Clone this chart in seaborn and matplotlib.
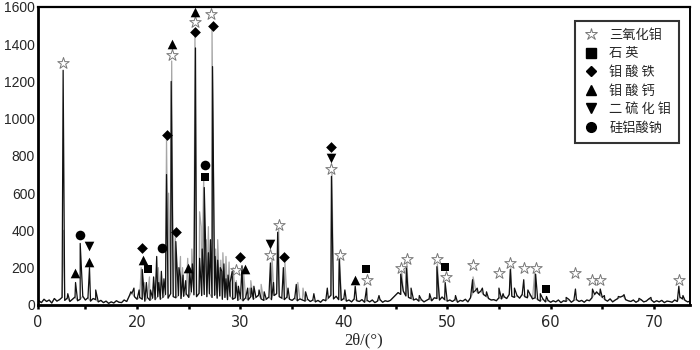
import numpy as np
import pandas as pd
import seaborn as sns
import matplotlib.pyplot as plt
from matplotlib.lines import Line2D

# scan baseline (counts), read every 0.25 deg from 10.5 to 73.5
baseline_start = 10.5
baseline_step = 0.25
baseline_counts = [
    22, 12, 30, 18, 26, 10, 34, 20,
    28, 40, 24, 36, 18, 30, 42, 22,
    30, 46, 26, 38, 20, 34, 28, 16,
    24, 12, 20, 8, 16, 10, 22, 14,
    12, 26, 18, 48, 62, 44, 30, 40,
    30, 20, 40, 24, 36, 28, 44, 30,
    40, 56, 36, 60, 44, 38, 50, 34,
    46, 60, 40, 70, 54, 44, 62, 50,
    56, 44, 60, 40, 52, 36, 48, 30,
    40, 28, 46, 30, 38, 24, 34, 22,
    38, 26, 44, 30, 40, 52, 32, 24,
    30, 42, 28, 50, 60, 44, 36, 28,
    42, 30, 24, 36, 22, 32, 26, 20,
    30, 18, 26, 16, 24, 14, 28, 22,
    36, 52, 32, 46, 28, 24, 34, 20,
    26, 16, 32, 22, 18, 28, 14, 24,
    16, 26, 12, 20, 28, 14, 22, 18,
    24, 38, 52, 66, 56, 74, 48, 40,
    34, 26, 32, 20, 28, 16, 24, 32,
    22, 38, 34, 26, 42, 28, 20, 26,
    18, 28, 14, 24, 20, 30, 16, 38,
    66, 78, 62, 74, 56, 46, 34, 26,
    28, 22, 38, 32, 44, 34, 56, 46,
    40, 50, 36, 56, 44, 38, 58, 32,
    38, 28, 20, 32, 16, 24, 14, 22,
    16, 26, 12, 22, 18, 30, 14, 24,
    28, 18, 24, 14, 26, 22, 38, 56,
    66, 52, 40, 28, 20, 32, 16, 26,
    34, 42, 48, 28, 22, 18, 26, 14,
    22, 28, 16, 20, 32, 26, 14, 22,
    16, 24, 12, 20, 18, 14, 26, 18,
    42, 32, 24, 16, 20,
]

# peak tops of the dark trace
black_2theta = [12.85, 13.3, 14.05, 14.5, 15.4, 16.0, 19.4, 19.7, 20.2, 20.5,
                20.9, 21.3, 21.6, 21.9, 22.1, 22.35, 22.6, 22.85, 23.3, 23.75,
                24.05, 24.2, 24.45, 24.7, 25.1, 25.35, 25.65, 26.05, 26.3, 26.5,
                26.9, 27.1, 27.3, 27.55, 27.8, 28.05, 28.2, 28.4, 28.6, 28.8,
                29.0, 29.2, 29.55, 29.8, 30.15, 30.7, 31.05, 31.3, 31.8, 32.3,
                32.9, 33.2, 33.6, 34.15, 34.6, 35.4, 36.3, 37.1, 38.4, 38.8,
                39.55, 40.1, 41.1, 42.2, 43.4, 45.5, 46.05, 46.5, 47.3, 48.3,
                49.0, 49.8, 50.8, 52.45, 52.9, 53.4, 53.8, 55.0, 55.4, 56.1,
                56.5, 57.4, 57.8, 58.55, 59.0, 59.6, 61.5, 62.4, 64.05, 64.45,
                64.8, 65.2, 66.55, 67.1, 68.55, 69.7, 72.4, 72.8]
black_counts = [1260, 60, 120, 330, 200, 80, 70, 90, 80, 190,
                120, 80, 150, 260, 120, 180, 140, 700, 1200, 340,
                200, 150, 160, 130, 180, 220, 1380, 250, 300, 630,
                280, 350, 1280, 260, 240, 200, 180, 220, 140, 160,
                120, 180, 120, 100, 210, 90, 90, 100, 80, 70,
                225, 120, 390, 200, 90, 110, 70, 60, 90, 690,
                245, 80, 100, 90, 50, 165, 200, 90, 50, 60,
                205, 120, 50, 135, 90, 90, 70, 90, 60, 190,
                90, 135, 80, 165, 60, 45, 40, 85, 85, 70,
                85, 50, 45, 55, 35, 40, 100, 50]

# peak tops of the light trace
gray_2theta = [12.9, 20.4, 20.7, 21.2, 21.6, 22.05, 22.85, 23.05, 23.35, 23.7,
               24.2, 24.4, 24.9, 25.3, 25.6, 26.05, 26.2, 26.45, 26.7, 26.9,
               27.25, 27.6, 27.8, 28.1, 28.3, 28.6, 28.9, 29.3, 29.6, 30.3,
               30.9, 31.0, 32.0, 33.05, 33.7, 34.3, 35.55, 36.05, 38.85, 39.6,
               45.6, 46.1, 49.05, 52.5, 56.15, 58.45]
gray_counts = [400, 200, 120, 150, 120, 200, 900, 600, 1310, 380,
               260, 200, 250, 300, 1460, 500, 420, 700, 350, 420,
               1475, 300, 350, 240, 280, 260, 230, 200, 130, 180,
               90, 130, 110, 260, 420, 230, 120, 90, 720, 260,
               180, 230, 220, 150, 200, 170]

# phase markers: (2theta, label height)
moo3_x = [12.8, 23.35, 25.65, 27.2, 29.55, 32.9, 33.7, 38.75, 39.6, 42.2, 45.5, 46.1,
          49.0, 49.85, 52.45, 55.0, 56.1, 57.4, 58.55, 62.4, 64.0, 64.75, 72.4]
moo3_y = [1300, 1340, 1520, 1565, 185, 270, 430, 730, 270, 135, 200, 245,
          245, 150, 215, 170, 225, 200, 200, 170, 135, 135, 135]
quartz_x = [21.05, 26.55, 42.1, 49.75, 59.6]
quartz_y = [190, 685, 190, 205, 85]
fe_x = [20.5, 22.85, 23.8, 25.65, 27.3, 30.0, 34.2, 38.8]
fe_y = [308, 913, 390, 1465, 1500, 255, 255, 848]
ca_x = [14.0, 15.4, 20.55, 23.35, 24.9, 25.65, 30.4, 41.1]
ca_y = [170, 232, 243, 1400, 200, 1573, 195, 135]
mos2_x = [15.4, 32.9, 38.8]
mos2_y = [315, 325, 790]
na_x = [14.45, 22.4, 26.55]
na_y = [373, 308, 751]

legend_labels = ['三氧化钼', '石 英', '钼 酸 铁', '钼 酸 钙', '二 硫 化 钼', '硅铝酸钠']

x_ticks = [10.4, 20, 30, 40, 50, 60, 70]
x_ticklabels = ['0', '20', '30', '40', '50', '60', '70']
y_ticks = [0, 200, 400, 600, 800, 1000, 1200, 1400, 1600]

baseline = pd.DataFrame({
    'two_theta': baseline_start + baseline_step * np.arange(len(baseline_counts)),
    'counts': baseline_counts,
})


def trace(px, py):
    peaks = pd.DataFrame({'two_theta': px, 'counts': py})
    return pd.concat([baseline, peaks]).sort_values('two_theta').reset_index(drop=True)


sns.set_style('white')
plt.rcParams['font.family'] = ['DejaVu Sans']

fig = plt.figure(figsize=(7, 3.5), dpi=100)
ax = fig.add_axes([0.054, 0.129, 0.932, 0.851])

sns.lineplot(data=trace(gray_2theta, gray_counts), x='two_theta', y='counts',
             estimator=None, sort=True, color='#a6a6a6', lw=0.9, ax=ax)
sns.lineplot(data=trace(black_2theta, black_counts), x='two_theta', y='counts',
             estimator=None, sort=True, color='#111111', lw=0.9, ax=ax)

mk = dict(ax=ax, zorder=5, legend=False)
sns.scatterplot(x=moo3_x, y=moo3_y, marker='*', s=75, facecolor='white',
                edgecolor='#777777', linewidth=0.7, **mk)
sns.scatterplot(x=quartz_x, y=quartz_y, marker='s', s=38, color='black', linewidth=0, **mk)
sns.scatterplot(x=fe_x, y=fe_y, marker='D', s=30, color='black', linewidth=0, **mk)
sns.scatterplot(x=ca_x, y=ca_y, marker='^', s=48, color='black', linewidth=0, **mk)
sns.scatterplot(x=mos2_x, y=mos2_y, marker='v', s=48, color='black', linewidth=0, **mk)
sns.scatterplot(x=na_x, y=na_y, marker='o', s=48, color='black', linewidth=0, **mk)

ax.set_xlim(10.4, 73.5)
ax.set_ylim(0, 1600)
ax.set_xticks(x_ticks)
ax.set_xticklabels(x_ticklabels, fontsize=10.5)
ax.set_xticks([15, 25, 35, 45, 55, 65], minor=True)
ax.set_yticks(y_ticks)
ax.set_yticklabels([str(v) for v in y_ticks], family='Liberation Sans', fontsize=10)
ax.tick_params(axis='x', which='both', direction='out', length=3, width=1.8,
               bottom=True, pad=4, color='black')
ax.tick_params(axis='y', length=0, pad=2)
ax.set_xlabel('2θ/(°)', family='Liberation Serif', fontsize=12, labelpad=2)
ax.set_ylabel('')

for side, lw in [('left', 2), ('bottom', 2), ('top', 1.6), ('right', 1.4)]:
    ax.spines[side].set_linewidth(lw)
    ax.spines[side].set_color('black')

handles = [
    Line2D([], [], ls='', marker='*', ms=9, mfc='white', mec='#777777', mew=0.7),
    Line2D([], [], ls='', marker='s', ms=6.5, color='black'),
    Line2D([], [], ls='', marker='D', ms=5.5, color='black'),
    Line2D([], [], ls='', marker='^', ms=7, color='black'),
    Line2D([], [], ls='', marker='v', ms=7, color='black'),
    Line2D([], [], ls='', marker='o', ms=7, color='black'),
]
leg = ax.legend(handles, legend_labels, loc='upper right', bbox_to_anchor=(0.983, 0.953),
                borderaxespad=0, fancybox=False, frameon=True, labelspacing=0.42,
                handlelength=1.2, handletextpad=0.8, borderpad=0.6,
                prop={'family': ['Noto Sans CJK SC', 'DejaVu Sans'], 'size': 9.5})
leg.get_frame().set_edgecolor('black')
leg.get_frame().set_linewidth(1.5)

fig.savefig('out.png', dpi=100)
